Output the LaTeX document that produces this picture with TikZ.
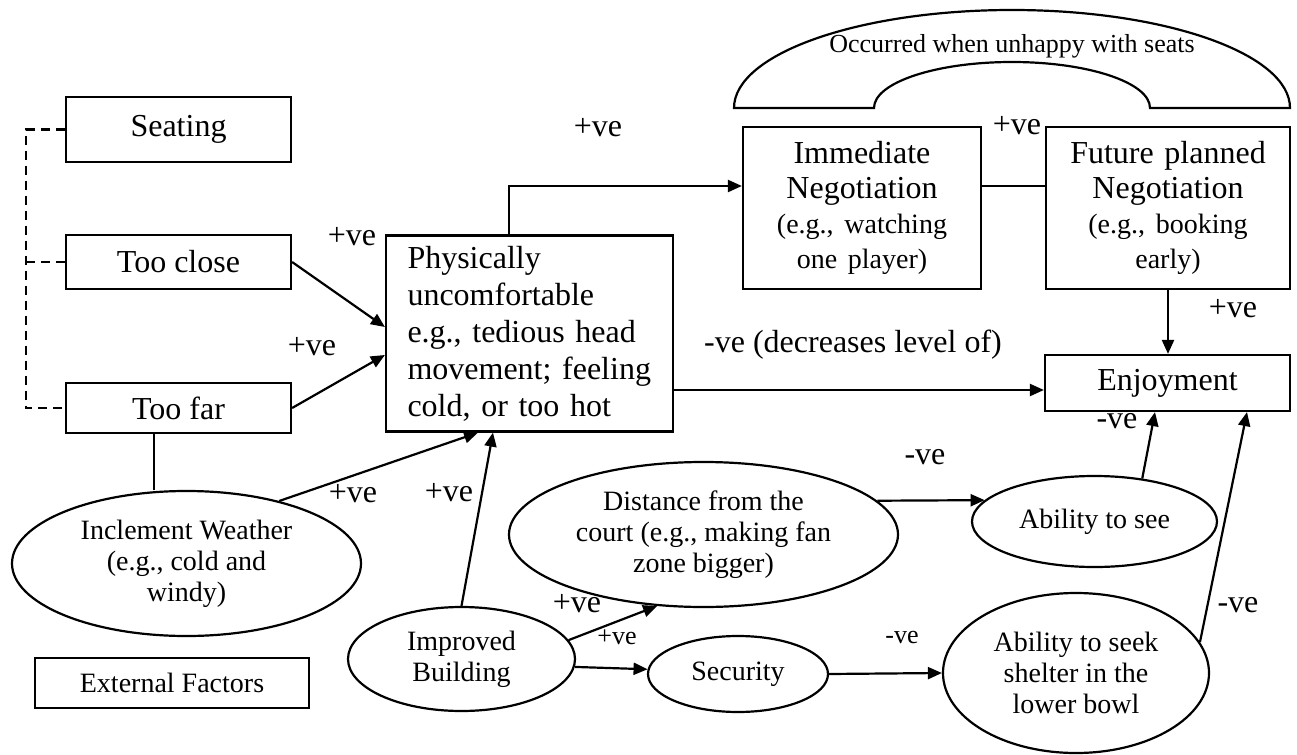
\documentclass[tikz,border=0pt]{standalone}
\usepackage{fontspec}
\setmainfont{Liberation Serif}
\usepackage{tikz}
\usetikzlibrary{shapes.geometric, arrows.meta}
\frenchspacing
\newcommand{\egfont}{\fontsize{14}{17.5}\selectfont}
\tikzstyle{box} = [rectangle, 
draw=black, 
line width=1.1pt,
inner sep=0pt,
align=center, 
font=\fontsize{16}{17.5}\selectfont]
\tikzstyle{oval} = [ellipse, 
draw=black, 
line width=1.1pt,
inner sep=0pt,
align=center, 
font=\fontsize{14}{15.5}\selectfont]
\tikzstyle{sign} = [inner sep=0pt, font=\fontsize{16}{18}\selectfont]
\tikzstyle{smallsign} = [inner sep=0pt, font=\fontsize{13}{15}\selectfont]
\tikzstyle{link} = [line width=1.1pt]
\tikzstyle{arrow} = [line width=1.1pt,-{Triangle[length=7pt,width=6pt]}]

\begin{document}
\begin{tikzpicture}[x=0.5pt, y=-0.5pt]
        \useasboundingbox (0,0) rectangle (1297,755);

        \node (seat) [box, minimum width=112.5pt, minimum height=32.5pt] at (178.5,129.5) {Seating};
        \node (close) [box, minimum width=112.5pt, minimum height=27pt] at (178.5,262) {Too close};
        \node (far) [box, minimum width=112.5pt, minimum height=25pt] at (178.5,408) {Too far};
        \node (weather) [oval, minimum width=174.5pt, minimum height=72.5pt] at (186.5,563.5) {Inclement Weather\\(e.g., cold and\\windy)};
        \node (extern) [box, font=\fontsize{14}{15}\selectfont, minimum width=137pt, minimum height=25pt] at (172,683) {External Factors};

        \node (phys) [box, align=left, text width=122pt, minimum width=143.5pt, minimum height=98pt, font=\fontsize{16}{18.5}\selectfont] at (529.5,333.5) {Physically\\uncomfortable\\e.g., tedious head\\movement; feeling\\cold, or too hot};

        \node (immed) [box, text width=115pt, minimum width=119pt, minimum height=81pt] at (862,208) {Immediate\\Negotiation\\{\egfont (e.g., watching\\one player)}};
        \node (future) [box, text width=118pt, minimum width=122pt, minimum height=81pt] at (1168,208) {Future planned\\Negotiation\\{\egfont (e.g., booking\\early)}};
        \node (enjoy) [box, minimum width=122.5pt, minimum height=28pt] at (1167.5,383) {Enjoyment};

        \node (dist) [oval, minimum width=194.5pt, minimum height=72.5pt] at (703.5,534.5) {Distance from the\\court (e.g., making fan\\zone bigger)};
        \node (see) [oval, minimum width=122.5pt, minimum height=45.5pt] at (1094.5,521.5) {Ability to see};
        \node (build) [oval, minimum width=113.5pt, minimum height=52pt] at (461.5,659) {Improved\\Building};
        \node (secur) [oval, minimum width=90pt, minimum height=38pt] at (738,674) {Security};
        \node (shelter) [oval, minimum width=133pt, minimum height=80pt] at (1076,673) {Ability to seek\\shelter in the\\lower bowl};

        % arch over the negotiation boxes
        \draw [link] (734,108) arc[start angle=180, end angle=0, x radius=139pt, y radius=49pt]
                -- (1150,108) arc[start angle=0, end angle=180, x radius=69pt, y radius=23pt] -- cycle;
        \node (occur) [inner sep=0pt, font=\fontsize{13}{15}\selectfont] at (1012,46) {Occurred when unhappy with seats};

        % seating group
        \draw [link, dash pattern=on 4.5pt off 3pt] (seat.west) -- ++(-39,0) |- (far.west);
        \draw [link, dash pattern=on 4.5pt off 3pt] (close.west) -- ++(-39,0);
        \draw [link] ([xshift=-12.25pt]far.south) -- ([xshift=-12.25pt]far.south |- weather.north);

        \draw [arrow] (close.east) -- ([yshift=3.25pt]phys.west);
        \draw [arrow] (far.east) -- ([yshift=-10.75pt]phys.west);
        \draw [arrow] (weather.34) -- ([xshift=-25.75pt]phys.south);
        \draw [arrow] (build.north) -- ([xshift=-18.25pt]phys.south);
        \draw [arrow] ([xshift=-10.25pt]phys.north) |- ([yshift=11pt]immed.west);
        \draw [link] ([yshift=11pt]immed.east) -- ([yshift=11pt]future.west);
        \draw [arrow] (future.south) -- (future.south |- enjoy.north);
        \draw [arrow] ([yshift=-28.25pt]phys.east) -- ([yshift=-28.25pt]phys.east -| enjoy.west);

        \draw [arrow] (build.10) -- (dist.237);
        \draw [arrow] (build.-4) -- (secur.177);
        \draw [arrow] (secur.east) -- (shelter.west);
        \draw [arrow] (dist.11) -- (see.169);
        \draw [arrow] (see.42) -- ([xshift=-6.25pt]enjoy.south);
        \draw [arrow] (shelter.14) -- ([xshift=39.75pt]enjoy.south);

        % signs
        \node (sImmed) [sign] at (598,128) {+ve};
        \node (sFuture) [sign] at (1017,126) {+ve};
        \node (sClose) [sign] at (352,237) {+ve};
        \node (sFar) [sign] at (312,347) {+ve};
        \node (sWeather) [sign] at (353,494) {+ve};
        \node (sBuild) [sign] at (449,493) {+ve};
        \node (sDist) [sign] at (577,604) {+ve};
        \node (sSecur) [smallsign] at (617,637) {+ve};
        \node (sEnjoy) [sign] at (1233,309) {+ve};
        \node (sPhys) [sign] at (853,345) {-ve (decreases level of)};
        \node (sSee) [sign] at (1117,421) {-ve};
        \node (sSeeIn) [sign] at (925,457) {-ve};
        \node (sShelterIn) [smallsign] at (902,637) {-ve};
        \node (sShelter) [sign] at (1238,605) {-ve};

\end{tikzpicture}
\end{document}
